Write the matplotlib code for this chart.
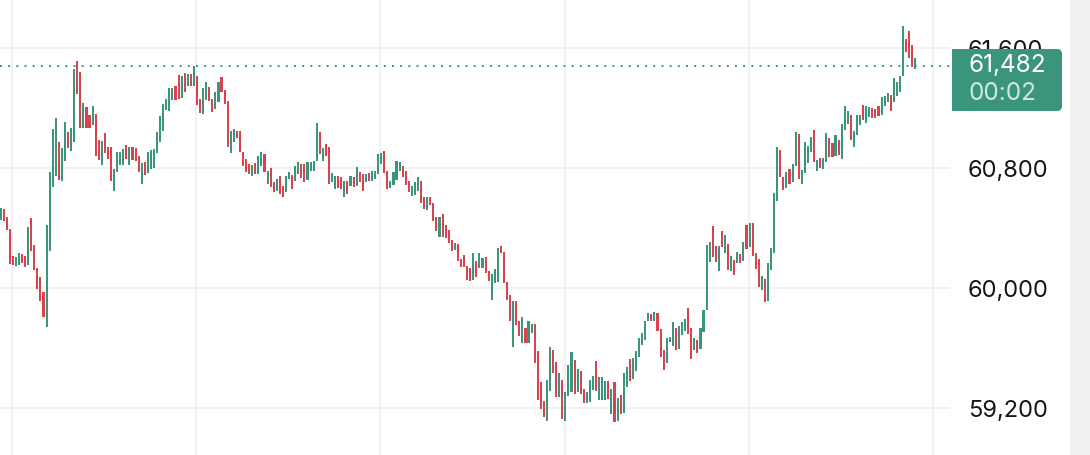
import matplotlib
matplotlib.use("Agg")
import matplotlib.pyplot as plt
import matplotlib.patches as patches
from matplotlib.transforms import IdentityTransform
import numpy as np

plt.rcParams['font.family'] = ['Inter', 'DejaVu Sans']

# candle open / close values (left to right)
opens = [
    60456, 60527, 60471, 60393, 60216, 60144, 60156, 60227, 60213, 60156,
    60467, 60287, 60133, 60071, 59971, 59742, 60249, 60671, 60749, 60971,
    60716, 60849, 61038, 60916, 60971, 61516, 61438, 61067, 61209, 61156,
    61089, 61160, 60989, 60820, 61033, 60942, 60938, 60649, 60771, 60820,
    60820, 60953, 60820, 60938, 60931, 60878, 60693, 60838, 60767, 60793,
    60798, 60898, 60971, 61049, 61189, 61182, 61256, 61349, 61420, 61264,
    61433, 61349, 61427, 61344, 61411, 61260, 61160, 61256, 61338, 61260,
    61193, 61238, 61404, 61322, 61249, 60898, 60971, 61049, 61049, 60909,
    60860, 60827, 60749, 60833, 60760, 60816, 60893, 60693, 60798, 60709,
    60649, 60744, 60682, 60638, 60727, 60756, 60716, 60760, 60827, 60827,
    60720, 60778, 60782, 60849, 61038, 60849, 60960, 60938, 60704, 60660,
    60749, 60738, 60609, 60716, 60682, 60742, 60682, 60771, 60760, 60704,
    60764, 60716, 60727, 60760, 60827, 60911, 60782, 60667, 60689, 60720,
    60782, 60816, 60778, 60711, 60616, 60622, 60649, 60711, 60604, 60520,
    60604, 60564, 60476, 60342, 60493, 60422, 60387, 60320, 60253, 60293,
    60193, 60222, 60149, 60133, 60053, 60182, 60133, 60133, 60204, 60116,
    59920, 60031, 60038, 60282, 60238, 60038, 59956, 59604, 59916, 59778,
    59631, 59733, 59631, 59698, 59760, 59578, 59371, 59249, 59111, 59316,
    59587, 59504, 59276, 59387, 59116, 59282, 59304, 59520, 59304, 59444,
    59327, 59231, 59238, 59320, 59511, 59253, 59253, 59253, 59378, 59160,
    59371, 59111, 59289, 59164, 59342, 59527, 59393, 59449, 59542, 59622,
    59653, 59782, 59827, 59778, 59831, 59727, 59587, 59498, 59638, 59616,
    59733, 59593, 59689, 59716, 59867, 59733, 59587, 59653, 59593, 59704,
    59853, 60171, 60416, 60282, 60111, 60382, 60231, 60293, 60111, 60187,
    60164, 60227, 60178, 60422, 60271, 60431, 60231, 60193, 59987, 60060,
    59916, 60120, 60231, 60582, 60920, 60742, 60667, 60793, 60704, 60816,
    61027, 60693, 60764, 60831, 60904, 61053, 60782, 60867, 60793, 60838,
    61000, 60964, 60882, 60987, 60860, 61053, 61093, 61156, 60942, 61020,
    61087, 61220, 61100, 61138, 61198, 61193, 61211, 61153, 61211, 61238,
    61287, 61238, 61278, 61309, 61411, 61660, 61716, 61620, 61460,
]
closes = [
    60533, 60449, 60389, 60160, 60156, 60204, 60236, 60164, 60142, 60404,
    60249, 60120, 59993, 59911, 59805, 60420, 60771, 61060, 61133, 60720,
    60931, 61104, 60931, 61067, 61460, 61293, 61067, 61231, 61067, 61067,
    61216, 60882, 60856, 60982, 60898, 60860, 60716, 60793, 60904, 60909,
    60927, 60860, 60938, 60853, 60849, 60771, 60833, 60753, 60904, 60922,
    60927, 61038, 61144, 61227, 61260, 61331, 61331, 61256, 61260, 61411,
    61304, 61427, 61344, 61478, 61220, 61164, 61331, 61376, 61249, 61176,
    61309, 61371, 61304, 61227, 60938, 61049, 61060, 60998, 60909, 60811,
    60771, 60760, 60820, 60760, 60882, 60909, 60776, 60782, 60671, 60638,
    60727, 60627, 60604, 60749, 60771, 60660, 60816, 60838, 60733, 60704,
    60838, 60838, 60849, 61098, 60893, 60933, 60882, 60693, 60764, 60749,
    60667, 60660, 60716, 60627, 60749, 60671, 60809, 60704, 60649, 60760,
    60716, 60778, 60778, 60893, 60898, 60764, 60660, 60716, 60771, 60844,
    60838, 60738, 60689, 60638, 60682, 60704, 60738, 60564, 60527, 60609,
    60556, 60444, 60378, 60476, 60342, 60333, 60298, 60249, 60298, 60178,
    60142, 60138, 60053, 60049, 60231, 60071, 60231, 60200, 60098, 60044,
    60093, 60127, 60267, 60231, 60031, 59920, 59782, 59916, 59756, 59682,
    59809, 59631, 59778, 59760, 59498, 59253, 59193, 59138, 59387, 59609,
    59431, 59276, 59431, 59127, 59304, 59489, 59571, 59293, 59460, 59293,
    59231, 59304, 59387, 59416, 59316, 59409, 59409, 59378, 59260, 59327,
    59104, 59267, 59160, 59431, 59476, 59378, 59533, 59578, 59667, 59698,
    59778, 59831, 59778, 59838, 59711, 59542, 59453, 59667, 59676, 59771,
    59587, 59749, 59771, 59793, 59693, 59527, 59667, 59564, 59733, 59853,
    60289, 60304, 60209, 60171, 60282, 60271, 60356, 60120, 60216, 60089,
    60238, 60164, 60304, 60260, 60431, 60216, 60127, 60009, 60082, 59904,
    60164, 60267, 60631, 60942, 60742, 60653, 60771, 60693, 60827, 61038,
    60727, 60787, 60971, 60949, 61004, 60838, 60853, 60800, 60867, 61031,
    60876, 60871, 61022, 60889, 61093, 61216, 61182, 60987, 61044, 61153,
    61153, 61122, 61211, 61204, 61131, 61131, 61149, 61271, 61278, 61300,
    61182, 61398, 61376, 61411, 61744, 61571, 61531, 61471, 61482,
]
last_high = 61531
last_price = 61482
last_label = "61,482"
countdown = "00:02"
price_ticks = [59200, 60000, 60800, 61600]

GREEN = "#3b957c"
RED = "#d9434e"
GRID = "#efefef"

W, H = 1090, 456
fig = plt.figure(figsize=(W / 100, H / 100), dpi=100, facecolor="white")
ax = fig.add_axes([0, 0, 950 / W, 1])
ax.set_facecolor("white")

o = np.array(opens, dtype=float)
c = np.array(closes, dtype=float)
x = np.arange(len(o))
up = c >= o
cols = np.where(up, GREEN, RED)
lo = np.minimum(o, c)
hi = np.maximum(o, c)
ax.bar(x, hi - lo, bottom=lo, width=0.68, color=cols, linewidth=0, zorder=3)
ax.vlines(x[-1], lo[-1], last_high, color=cols[-1], linewidth=1.5, zorder=3)

px = 3.07  # pixels per candle
ax.set_xlim(-0.5 / px, (950 - 0.5) / px)
ax.set_ylim(61600 - 407 * 20 / 3, 61600 + 49 * 20 / 3)

ax.set_xticks(3.75 + 60 * np.arange(6))
ax.set_yticks(price_ticks)
ax.set_yticklabels([f"{v:,}" for v in price_ticks])
ax.yaxis.tick_right()
ax.tick_params(axis="y", length=0, pad=13, labelsize=17, labelcolor="#161616")
ax.tick_params(axis="x", length=0, labelbottom=False)
ax.grid(True, color=GRID, linewidth=1.2, zorder=0)
ax.set_axisbelow(True)
for s in ax.spines.values():
    s.set_visible(False)

ax.axhline(last_price, color=GREEN, linestyle=(0, (1, 3.2)), linewidth=1.4, zorder=2)

# price tag on the right scale (covers the lower half of the 61,600 label)
tag = patches.FancyBboxPatch((952, H - 112), 110, 62,
                             boxstyle="round,pad=0,rounding_size=5",
                             transform=IdentityTransform(),
                             facecolor=GREEN, edgecolor="none", zorder=2)
fig.patches.append(tag)
fig.patches.append(patches.Rectangle((952, H - 112), 20, 62,
                                     transform=IdentityTransform(),
                                     facecolor=GREEN, edgecolor="none", zorder=2))
fig.text(968 / W, (H - 66) / H, last_label, color="white", fontsize=17.5,
         ha="left", va="center")
fig.text(968 / W, (H - 93) / H, countdown, color="#cde9e0", fontsize=17.5,
         ha="left", va="center")

# light strip along the right edge
fig.patches.append(patches.Rectangle((1070 / W, 0), 20 / W, 1,
                                     transform=fig.transFigure,
                                     facecolor="#f1f1f1", edgecolor="none"))

fig.savefig("out.png", dpi=100, facecolor="white")
